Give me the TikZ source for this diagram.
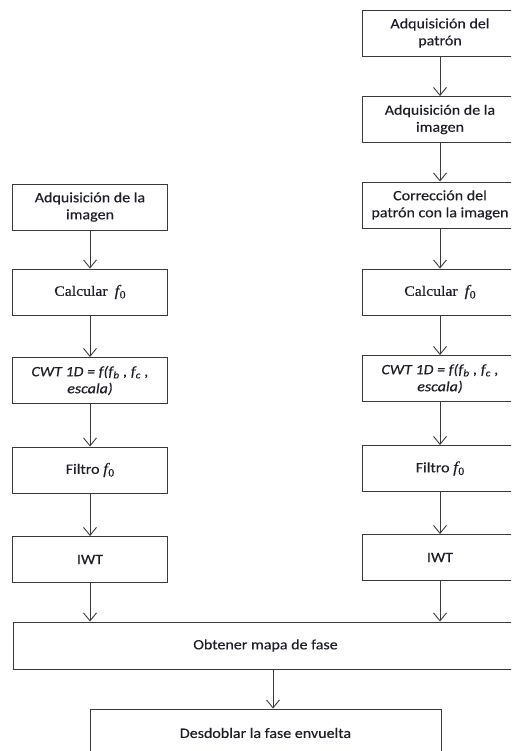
\documentclass[tikz,border=0pt]{standalone}
\usepackage{fontspec}
\setmainfont{Carlito}[FakeStretch=1.12,FakeBold=0.4]
\newfontfamily\calfont{Liberation Serif}[FakeStretch=1.1,FakeBold=0.3]
\usetikzlibrary{arrows.meta}
\definecolor{ink}{HTML}{1E1E2A}
\definecolor{edge}{HTML}{3A3A3A}
\tikzset{
  box/.style={draw=edge, line width=0.9pt, rectangle, minimum width=155pt, minimum height=46pt,
    inner sep=0pt, align=center, text=ink, font=\fontsize{14.3}{17}\selectfont},
  arr/.style={draw=edge, line width=0.9pt, -{Straight Barb[length=8pt,width=13pt,line width=0.9pt]}},
}
\newcommand{\fz}{{\calfont\itshape\fontsize{15.5}{17}\selectfont f\kern0.3pt\raisebox{-2.6pt}{\upshape\fontsize{11}{11}\selectfont 0}}}
\begin{document}
\begin{tikzpicture}[x=1pt,y=-1pt]
\useasboundingbox (0,0) rectangle (511,751);
\clip (0,0) rectangle (511,751);
% left column
\node[box] (L1) at (90,207) {Adquisición de la\\imagen};
\node[box] (L2) at (90,292) {{\calfont Calcular}\hspace{7pt}\fz};
\node[box] (L3) at (90,380.5) {\itshape CWT 1D = f(f\textsubscript{b} , f\textsubscript{c} ,\\\itshape escala)};
\node[box] (L4) at (90,470) {Filtro \fz};
\node[box] (L5) at (90,559.5) {IWT};
% right column
\node[box] (R1) at (440,33) {Adquisición del\\patrón};
\node[box] (R2) at (440,119.5) {Adquisición de la\\imagen};
\node[box] (R3) at (440,205) {Corrección del\\patrón con la imagen};
\node[box] (R4) at (440,292) {{\calfont Calcular}\hspace{7pt}\fz};
\node[box] (R5) at (440,378.5) {\itshape CWT 1D = f(f\textsubscript{b} , f\textsubscript{c} ,\\\itshape escala)};
\node[box] (R6) at (440,468.5) {Filtro \fz};
\node[box] (R7) at (440,557.5) {IWT};
% bottom
\node[box, minimum width=505pt, minimum height=47pt] (O) at (265.5,645.5) {Obtener mapa de fase};
\node[box, minimum width=351pt, minimum height=48pt] (D) at (265.5,733) {Desdoblar la fase envuelta};
% connectors
\draw[arr] (L1) -- (L2);
\draw[arr] (L2) -- (L3);
\draw[arr] (L3) -- (L4);
\draw[arr] (L4) -- (L5);
\draw[arr] (R1) -- (R2);
\draw[arr] (R2) -- (R3);
\draw[arr] (R3) -- (R4);
\draw[arr] (R4) -- (R5);
\draw[arr] (R5) -- (R6);
\draw[arr] (R6) -- (R7);
\draw[arr] (L5.south) -- (L5.south |- O.north);
\draw[arr] (R7.south) -- (R7.south |- O.north);
\draw[arr] ([xshift=7.5pt]O.south) -- ([xshift=7.5pt]O.south |- D.north);
\end{tikzpicture}
\end{document}
